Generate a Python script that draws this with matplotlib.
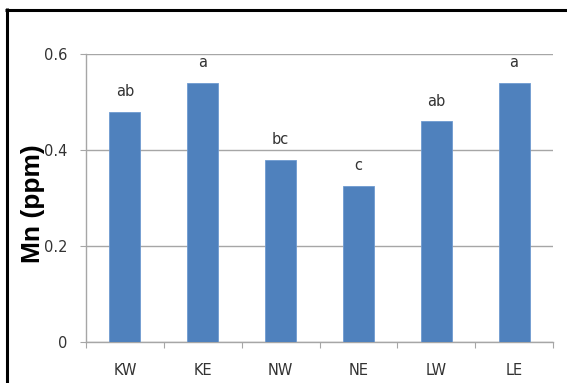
import matplotlib.pyplot as plt
from matplotlib.lines import Line2D
from matplotlib import font_manager

sites = ["KW", "KE", "NW", "NE", "LW", "LE"]
mn_ppm = [0.48, 0.54, 0.38, 0.325, 0.46, 0.54]
letters = ["ab", "a", "bc", "c", "ab", "a"]
y_ticks = [0, 0.2, 0.4, 0.6]
y_tick_labels = ["0", "0.2", "0.4", "0.6"]

bar_color = "#4F81BD"
grid_color = "#A6A6A6"
text_color = "#333333"

# narrow bold face for the axis title if available, otherwise Arial-like
names = {f.name for f in font_manager.fontManager.ttflist}
if "Liberation Sans Narrow" in names:
    title_font, title_size = "Liberation Sans Narrow", 22.5
else:
    title_font, title_size = "Liberation Sans", 19

fig = plt.figure(figsize=(5.67, 3.83), dpi=100)
ax = fig.add_axes([86 / 567, 41 / 383, 467 / 567, 288 / 383])

x = list(range(len(sites)))
bars = ax.bar(x, mn_ppm, width=0.4, color=bar_color, edgecolor="#6F9AD0",
              linewidth=0.6, zorder=3)

for xi, val, lab in zip(x, mn_ppm, letters):
    ax.annotate(lab, (xi, val), xytext=(0, 9), textcoords="offset points",
                ha="center", va="bottom", fontsize=10.5, color=text_color)

ax.set_xlim(-0.5, len(sites) - 0.5)
ax.set_ylim(0, 0.6)

ax.set_yticks(y_ticks)
ax.set_yticklabels(y_tick_labels)
ax.yaxis.grid(True, color=grid_color, linewidth=1.0, zorder=0)
ax.tick_params(axis="y", direction="out", length=4.3, width=0.8,
               color=grid_color, pad=9, labelsize=10.5, labelcolor=text_color)

# category labels at centres, tick marks between categories
ax.set_xticks(x)
ax.set_xticklabels(sites)
ax.set_xticks([i - 0.5 for i in range(len(sites) + 1)], minor=True)
ax.tick_params(axis="x", which="major", length=0, pad=15,
               labelsize=10.5, labelcolor=text_color)
ax.tick_params(axis="x", which="minor", direction="out", length=4,
               width=0.8, color=grid_color)

for side in ["top", "right"]:
    ax.spines[side].set_visible(False)
for side in ["left", "bottom"]:
    ax.spines[side].set_color(grid_color)
    ax.spines[side].set_linewidth(1.0)

fig.text(33 / 567, 1 - 204 / 383, "Mn (ppm)", rotation=90, ha="center",
         va="center", fontsize=title_size, fontweight="bold",
         family=title_font, color="black")

# black frame along top and left edges
fig.add_artist(Line2D([5 / 567, 1.0], [1 - 9.5 / 383, 1 - 9.5 / 383],
                      transform=fig.transFigure, color="black", linewidth=2.2,
                      solid_capstyle="butt"))
fig.add_artist(Line2D([6.5 / 567, 6.5 / 567], [0, 1 - 8 / 383],
                      transform=fig.transFigure, color="black", linewidth=2.2,
                      solid_capstyle="butt"))

fig.savefig("out.png", dpi=100)
